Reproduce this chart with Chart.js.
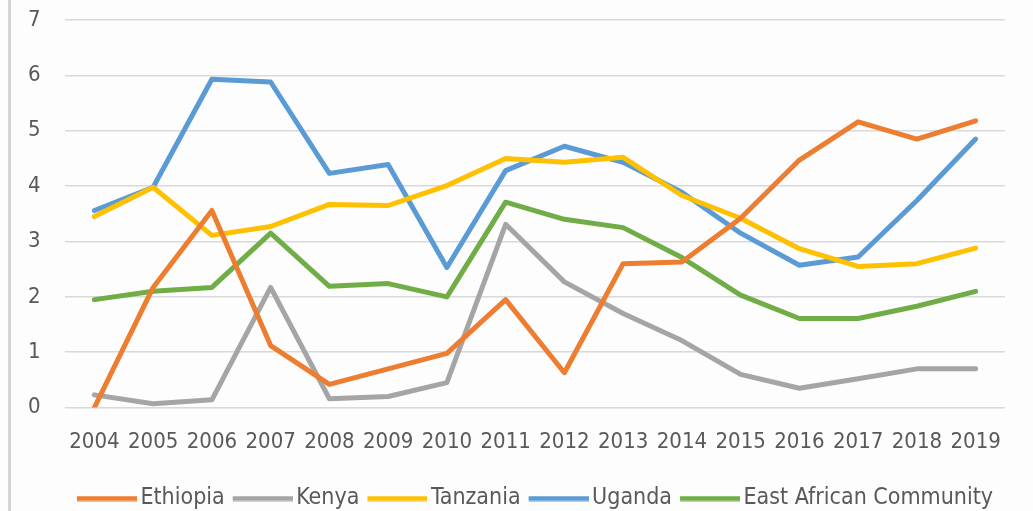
<!DOCTYPE html>
<html>
<head>
<meta charset="utf-8">
<script src="https://cdn.jsdelivr.net/npm/chart.js@4/dist/chart.umd.min.js"></script>
<style>
  html, body { margin: 0; padding: 0; background: #fdfdfd; overflow: hidden; }
  .wrap { position: relative; width: 1033px; height: 511px; overflow: hidden; }
  .frame { position: absolute; left: 8px; top: 0; width: 3px; height: 511px; background: #d6d6d6; }
  .chart-box { position: absolute; left: 0; top: 0; width: 1033px; height: 520px; }
</style>
</head>
<body>
<div class="wrap">
  <div class="frame"></div>
  <div class="chart-box"><canvas id="eacChart"></canvas></div>
</div>
<script>
const years = ['2004', '2005', '2006', '2007', '2008', '2009', '2010', '2011',
               '2012', '2013', '2014', '2015', '2016', '2017', '2018', '2019'];
const ethiopia = [0, 2.17, 3.56, 1.12, 0.42, 0.7, 0.98, 1.95, 0.63, 2.6, 2.63, 3.42, 4.47, 5.16, 4.85, 5.18];
const kenya    = [0.23, 0.07, 0.14, 2.17, 0.16, 0.2, 0.45, 3.31, 2.27, 1.7, 1.21, 0.6, 0.35, 0.52, 0.7, 0.7];
const tanzania = [3.45, 3.98, 3.11, 3.27, 3.67, 3.65, 4.01, 4.5, 4.43, 4.52, 3.83, 3.42, 2.87, 2.55, 2.6, 2.88];
const uganda   = [3.56, 3.98, 5.93, 5.88, 4.23, 4.39, 2.53, 4.28, 4.72, 4.43, 3.89, 3.15, 2.57, 2.72, 3.74, 4.85];
const eac      = [1.95, 2.1, 2.17, 3.15, 2.19, 2.24, 2.0, 3.71, 3.4, 3.25, 2.71, 2.03, 1.61, 1.61, 1.83, 2.1];
const yTicks   = [0, 1, 2, 3, 4, 5, 6, 7];

const FONT = "'DejaVu Sans Condensed', 'DejaVu Sans', sans-serif";
const TEXT = '#595959';

// legend swatch: long line that sits close to the label text (Excel style)
function swatch(color) {
    const c = document.createElement('canvas');
    c.width = 68; c.height = 6;
    const g = c.getContext('2d');
    g.fillStyle = color;
    g.fillRect(8, 0.5, 60, 5);
    return c;
}

function line(label, data, color) {
    return {
        label, data,
        borderColor: color, backgroundColor: color,
        borderWidth: 5, pointRadius: 0, tension: 0,
        pointStyle: swatch(color),
        borderJoinStyle: 'round', borderCapStyle: 'round'
    };
}

new Chart(document.getElementById('eacChart'), {
    type: 'line',
    data: {
        labels: years,
        datasets: [
            line('Ethiopia', ethiopia, '#ED7D31'),
            line('Kenya', kenya, '#A5A5A5'),
            line('Tanzania', tanzania, '#FFC000'),
            line('Uganda', uganda, '#5B9BD5'),
            line('East African Community', eac, '#70AD47')
        ]
    },
    options: {
        responsive: true, maintainAspectRatio: false, animation: false,
        layout: { padding: { top: 20, right: 28, left: 28, bottom: 0 } },
        scales: {
            x: {
                offset: true,
                afterFit(scale) { scale.height += 3; },
                grid: { display: false, drawTicks: false },
                border: { display: false },
                ticks: { color: TEXT, font: { family: FONT, size: 22 }, padding: 21, maxRotation: 0, autoSkip: false }
            },
            y: {
                min: 0, max: 7,
                afterFit(scale) { scale.width = 37; },
                afterBuildTicks(scale) { scale.ticks = yTicks.map(v => ({ value: v })); },
                grid: { color: '#d9d9d9', lineWidth: 1.5, drawTicks: false },
                border: { display: false },
                ticks: { color: TEXT, font: { family: FONT, size: 22 }, padding: 0, crossAlign: 'far' }
            }
        },
        plugins: {
            legend: {
                position: 'bottom',
                fullSize: false,
                labels: {
                    color: TEXT, font: { family: FONT, size: 23 },
                    usePointStyle: true, pointStyleWidth: 52,
                    boxHeight: 5, padding: 8
                }
            },
            tooltip: { enabled: false }
        }
    }
});
</script>
</body>
</html>
